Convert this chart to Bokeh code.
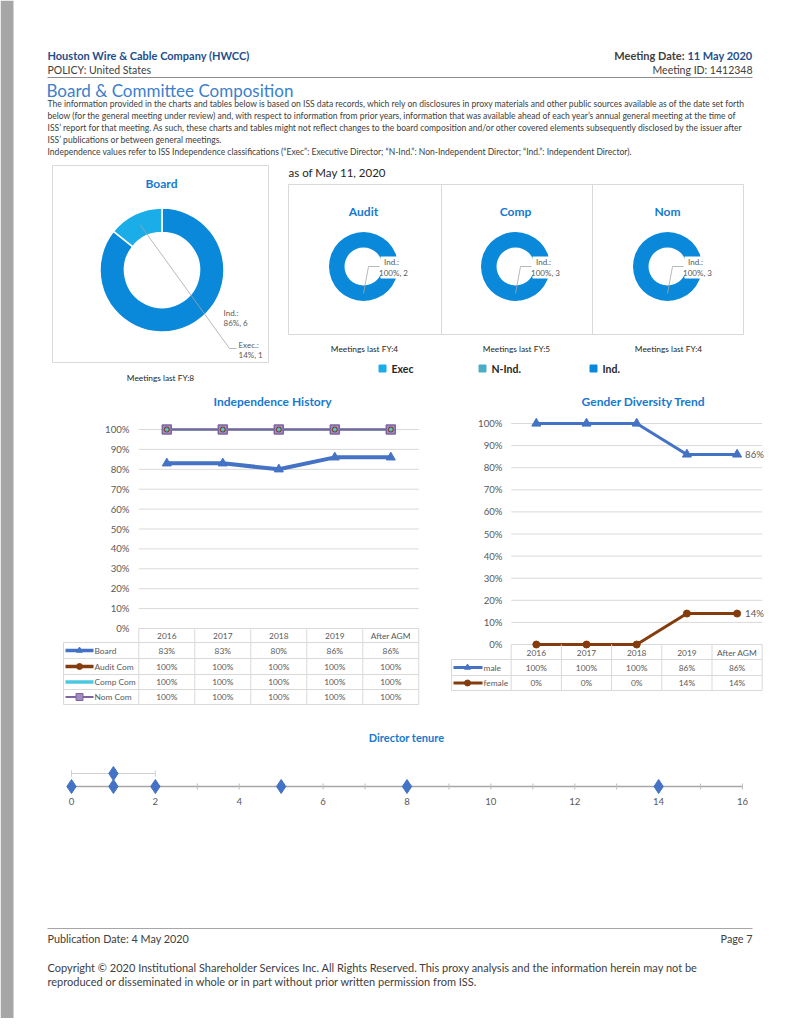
import math
from bokeh.plotting import figure
from bokeh.models import Range1d
from bokeh.core.properties import value
from bokeh.embed import file_html
from bokeh.resources import INLINE

# ---------------- data ----------------
company = "Houston Wire & Cable Company (HWCC)"
policy = "POLICY: United States"
meeting_date = "11 May 2020"
meeting_id = "1412348"
section_title = "Board & Committee Composition"
intro_lines = [
    "The information provided in the charts and tables below is based on ISS data records, which rely on disclosures in proxy materials and other public sources available as of the date set forth",
    "below (for the general meeting under review) and, with respect to information from prior years, information that was available ahead of each year\u2019s annual general meeting at the time of",
    "ISS\u2019 report for that meeting.   As such, these charts and tables might not reflect changes to the board composition and/or other covered elements subsequently disclosed by the issuer after",
    "ISS\u2019 publications or between general meetings.",
    "Independence values refer to ISS Independence classifications (\u201cExec\u201d: Executive Director; \u201cN-Ind.\u201d: Non-Independent Director; \u201cInd.\u201d: Independent Director).",
]
as_of = "as of May 11, 2020"
pub_date = "4 May 2020"
page_no = 7
copyright_lines = [
    "Copyright \u00a9 2020 Institutional Shareholder Services Inc.  All Rights Reserved.  This proxy analysis and the information herein may not be",
    "reproduced or disseminated in whole or in part without prior written permission from ISS.",
]

board_classes = ["Exec", "N-Ind.", "Ind."]
board_counts = [1, 0, 6]
board_meetings = 8
committee_names = ["Audit", "Comp", "Nom"]
committee_ind_counts = [2, 3, 3]
committee_meetings = [4, 5, 4]

years = ["2016", "2017", "2018", "2019", "After AGM"]
indep_series = ["Board", "Audit Com", "Comp Com", "Nom Com"]
indep_board = [83, 83, 80, 86, 86]
indep_audit = [100, 100, 100, 100, 100]
indep_comp = [100, 100, 100, 100, 100]
indep_nom = [100, 100, 100, 100, 100]

gender_series = ["male", "female"]
gender_male = [100, 100, 100, 86, 86]
gender_female = [0, 0, 0, 14, 14]

pct_ticks = [0, 10, 20, 30, 40, 50, 60, 70, 80, 90, 100]

tenure_years = [0, 1, 1, 2, 5, 8, 14]
tenure_ticks = [0, 2, 4, 6, 8, 10, 12, 14, 16]
tenure_minor = list(range(0, 17))
tenure_band = [0, 2]

# ---------------- styles ----------------
FONT = "Lato"
C_DARKBLUE = "#1F4E8C"
C_SECTION = "#3C7FCB"
C_TITLE = "#1679CF"
C_TEXT = "#404040"
C_GRAY = "#595959"
C_GRID = "#D9D9D9"
C_EXEC = "#1AADE8"
C_NIND = "#4BACC6"
C_IND = "#0A88D9"
C_BOARD = "#4472C4"
C_AUDIT = "#843C0C"
C_COMP = "#4BC8E0"
C_NOM = "#8064A2"

W, H = 784, 1018
X0, Y0 = 0, 0

p = figure(width=W, height=H, x_range=Range1d(X0, X0 + W), y_range=Range1d(Y0 + H, Y0),
           output_backend="svg", toolbar_location=None, min_border=0,
           x_axis_location=None, y_axis_location=None)
p.grid.visible = False
p.outline_line_color = None
p.background_fill_color = "white"
p.border_fill_color = "white"


def map_range(v0, s0, v1, s1, lo, hi):
    k = (v1 - v0) / (s1 - s0)
    return Range1d(start=v0 + (lo - s0) * k, end=v0 + (hi - s0) * k)


p.extra_x_ranges = {
    "ix": map_range(-0.5, 138.3, 4.5, 418.3, X0, X0 + W),
    "gx": map_range(-0.5, 510.7, 4.5, 761.7, X0, X0 + W),
    "tx": map_range(0, 71, 16, 742, X0, X0 + W),
}
p.extra_y_ranges = {
    "iy": map_range(0, 628, 100, 429, Y0 + H, Y0),
    "gy": map_range(0, 644, 100, 423, Y0 + H, Y0),
    "ty": map_range(0, 786, 1, 773, Y0 + H, Y0),
}


def T(x, y, s, size=8.0, color=C_TEXT, align="left", style="normal", xr="default", yr="default",
      x_offset=0):
    xs = x if isinstance(x, list) else [x]
    ys = y if isinstance(y, list) else [y] * len(xs)
    ss = s if isinstance(s, list) else [s] * len(xs)
    if len(xs) == 1 and len(ys) > 1:
        xs = xs * len(ys)
    p.text(x=xs, y=ys, text=ss, text_font=value(FONT), text_font_size=f"{size}px",
           text_color=color, text_align=align, text_baseline="middle", text_font_style=style,
           x_range_name=xr, y_range_name=yr, x_offset=x_offset)


# left gray page band
p.quad(left=X0, right=13, top=Y0, bottom=Y0 + H, color="#A6A6A6", line_color=None)

# ---------------- header ----------------
T(47, 55, company, 11, C_DARKBLUE, style="bold")
T(47, 69, policy, 10.5, C_TEXT)
T(752, 55, meeting_date, 11, C_DARKBLUE, align="right", style="bold")
T(684, 55, "Meeting Date:", 11, C_TEXT, align="right", style="bold")
T(752, 69, f"Meeting ID: {meeting_id}", 10.5, C_TEXT, align="right")
p.segment(x0=47, x1=752, y0=77, y1=77, color="#8C8C8C", line_width=1.2)
T(46, 90, section_title, 17, C_SECTION)
T(47, [103.5, 115.5, 127.5, 139.5, 151], intro_lines, 8.55, C_TEXT)

# ---------------- board donut ----------------
p.quad(left=52, right=268, top=165, bottom=362, fill_color=None, line_color=C_GRID)
T(161, 183, "Board", 12, C_TITLE, align="center", style="bold")
bcx, bcy = 161.5, 269.5
total = sum(board_counts)
cols = [C_EXEC, C_NIND, C_IND]
start = math.pi / 2
mids = {}
for i in [2, 1, 0]:
    sweep = 2 * math.pi * board_counts[i] / total
    if sweep > 0:
        p.annular_wedge(x=bcx, y=bcy, inner_radius=37.5, outer_radius=62,
                        inner_radius_units="screen", outer_radius_units="screen",
                        start_angle=start - sweep, end_angle=start, direction="anticlock",
                        fill_color=cols[i], line_color="white", line_width=1.5)
        mids[i] = start - sweep / 2
    start -= sweep
# exec label with leader
a = mids[0]
lx0, ly0 = bcx + 50 * math.cos(a), bcy - 50 * math.sin(a)
p.line(x=[lx0, 229, 236], y=[ly0, 348, 348], color="#A6A6A6", line_width=0.8)
T(223, 312, f"{board_classes[2]}:", 8, C_GRAY)
T(223, 322, f"{round(100 * board_counts[2] / total)}%, {board_counts[2]}", 8, C_GRAY)
T(238, 344, "Exec.:", 8, C_GRAY)
T(238, 354, f"{round(100 * board_counts[0] / total)}%, {board_counts[0]}", 8, C_GRAY)
T(160, 377, f"Meetings last FY:{board_meetings}", 8.3, "#262626", align="center")

# ---------------- committee donuts ----------------
T(288, 172, as_of, 11.5, "#262626")
p.quad(left=288, right=743, top=184, bottom=334, fill_color=None, line_color=C_GRID)
p.segment(x0=[441, 592], x1=[441, 592], y0=184, y1=334, color=C_GRID)
ccx = [363, 515, 667]
ccy = 266
for k, name in enumerate(committee_names):
    cx = ccx[k]
    T(cx, 211, name, 12, C_TITLE, align="center", style="bold")
    p.annular_wedge(x=cx, y=ccy, inner_radius=19, outer_radius=34.5,
                    inner_radius_units="screen", outer_radius_units="screen",
                    start_angle=math.pi / 2 - 2 * math.pi, end_angle=math.pi / 2,
                    direction="anticlock", fill_color=C_IND, line_color=None)
    p.quad(left=cx + 17, right=cx + 45, top=ccy - 10, bottom=ccy + 12, fill_color="white",
           line_color=None)
    p.line(x=[cx, cx + 5, cx + 16], y=[ccy + 27, ccy, ccy], color="#A6A6A6", line_width=0.8)
    T(cx + 28, ccy - 5, "Ind.:", 8, C_GRAY, align="center")
    T(cx + 30, ccy + 6, f"100%, {committee_ind_counts[k]}", 8, C_GRAY, align="center")
    T(cx + 1, 348, f"Meetings last FY:{committee_meetings[k]}", 8.3, "#262626", align="center")

leg_x = [382, 482, 593]
p.rect(x=leg_x, y=368, width=7, height=7, width_units="screen", height_units="screen",
       color=[C_EXEC, C_NIND, C_IND])
T([x + 9 for x in leg_x], 368, ["Exec", "N-Ind.", "Ind."], 10.5, "#262626", style="bold")

# ---------------- independence history ----------------
ixs = list(range(len(years)))
T(272, 401, "Independence History", 12, C_TITLE, align="center", style="bold")
p.segment(x0=-0.5, x1=4.5, y0=pct_ticks, y1=pct_ticks, x_range_name="ix", y_range_name="iy",
          color=C_GRID, line_width=1)
T(129, pct_ticks, [f"{t}%" for t in pct_ticks], 9.6, C_GRAY, align="right", yr="iy")
p.line(ixs, indep_audit, x_range_name="ix", y_range_name="iy", color=C_AUDIT, line_width=2)
p.line(ixs, indep_comp, x_range_name="ix", y_range_name="iy", color=C_COMP, line_width=2)
p.line(ixs, indep_nom, x_range_name="ix", y_range_name="iy", color=C_NOM, line_width=2)
p.line(ixs, indep_board, x_range_name="ix", y_range_name="iy", color=C_BOARD, line_width=4)
p.scatter(ixs, indep_board, x_range_name="ix", y_range_name="iy", marker="triangle", size=9,
          color=C_BOARD)
p.scatter(ixs, indep_nom, x_range_name="ix", y_range_name="iy", marker="square", size=9,
          fill_color="#A08CC0", line_color=C_NOM, line_width=1.5)
p.scatter(ixs, indep_audit, x_range_name="ix", y_range_name="iy", marker="circle", size=5,
          color=C_AUDIT)
p.scatter(ixs, indep_comp, x_range_name="ix", y_range_name="iy", marker="circle", size=3,
          color=C_COMP)

# table
irows = [628, 642, 658, 674, 689, 704]
p.segment(x0=[i - 0.5 for i in range(6)], x1=[i - 0.5 for i in range(6)], y0=628, y1=704,
          x_range_name="ix", color=C_GRID)
p.segment(x0=63, x1=63, y0=642, y1=704, color=C_GRID)
p.segment(x0=63, x1=418.3, y0=irows[1:], y1=irows[1:], color=C_GRID)
T(ixs, 635, years, 8.4, C_GRAY, align="center", xr="ix")
ind_vals = [indep_board, indep_audit, indep_comp, indep_nom]
row_c = [(irows[i + 1] + irows[i + 2]) / 2 for i in range(4)]
for r, vals in enumerate(ind_vals):
    T(ixs, row_c[r], [f"{v}%" for v in vals], 8.4, C_GRAY, align="center", xr="ix")
ser_cols = [C_BOARD, C_AUDIT, C_COMP, C_NOM]
ser_w = [3.5, 3.5, 3.5, 2]
for r, name in enumerate(indep_series):
    p.line(x=[65, 93], y=[row_c[r]] * 2, color=ser_cols[r], line_width=ser_w[r])
    T(94, row_c[r], name, 8.4, C_GRAY)
p.scatter(x=[79], y=[row_c[0]], marker="triangle", size=6, color=C_BOARD)
p.scatter(x=[79], y=[row_c[1]], marker="circle", size=6, color=C_AUDIT)
p.scatter(x=[79], y=[row_c[3]], marker="square", size=7, fill_color="#A08CC0", line_color=C_NOM)

# ---------------- gender diversity ----------------
T(643, 401, "Gender Diversity Trend", 12, C_TITLE, align="center", style="bold")
p.segment(x0=-0.5, x1=4.5, y0=pct_ticks, y1=pct_ticks, x_range_name="gx", y_range_name="gy",
          color=C_GRID, line_width=1)
T(502, pct_ticks, [f"{t}%" for t in pct_ticks], 9.6, C_GRAY, align="right", yr="gy")
p.line(ixs, gender_male, x_range_name="gx", y_range_name="gy", color=C_BOARD, line_width=3)
p.scatter(ixs, gender_male, x_range_name="gx", y_range_name="gy", marker="triangle", size=9,
          color=C_BOARD)
p.line(ixs, gender_female, x_range_name="gx", y_range_name="gy", color=C_AUDIT, line_width=3)
p.scatter(ixs, gender_female, x_range_name="gx", y_range_name="gy", marker="circle", size=7,
          color=C_AUDIT)
T([ixs[-1]] * 2, [gender_male[-1], gender_female[-1]],
  [f"{gender_male[-1]}%", f"{gender_female[-1]}%"], 9.6, C_GRAY, xr="gx", yr="gy", x_offset=8)

grows = [644, 659, 675, 690]
p.segment(x0=[i - 0.5 for i in range(6)], x1=[i - 0.5 for i in range(6)], y0=644, y1=690,
          x_range_name="gx", color=C_GRID)
p.segment(x0=451, x1=451, y0=659, y1=690, color=C_GRID)
p.segment(x0=451, x1=761.7, y0=grows[1:], y1=grows[1:], color=C_GRID)
T(ixs, 652, years, 8.4, C_GRAY, align="center", xr="gx")
g_vals = [gender_male, gender_female]
g_cols = [C_BOARD, C_AUDIT]
grow_c = [667, 682.5]
for r, vals in enumerate(g_vals):
    T(ixs, grow_c[r], [f"{v}%" for v in vals], 8.4, C_GRAY, align="center", xr="gx")
    p.line(x=[453, 482], y=[grow_c[r]] * 2, color=g_cols[r], line_width=3)
    T(483, grow_c[r], gender_series[r], 8.4, C_GRAY)
p.scatter(x=[467], y=[grow_c[0]], marker="triangle", size=6, color=C_BOARD)
p.scatter(x=[467], y=[grow_c[1]], marker="circle", size=6, color=C_AUDIT)

# ---------------- director tenure ----------------
T(406, 737, "Director tenure", 11, C_TITLE, align="center", style="bold")
p.segment(x0=tenure_ticks[0], x1=tenure_ticks[-1], y0=0, y1=0, x_range_name="tx",
          y_range_name="ty", color="#A6A6A6", line_width=1.5)
p.segment(x0=tenure_minor, x1=tenure_minor, y0=783, y1=789, x_range_name="tx", color="#BFBFBF")
T(tenure_ticks, 801, [str(t) for t in tenure_ticks], 9.6, C_GRAY, align="center", xr="tx")
levels = []
seen = {}
for t in tenure_years:
    levels.append(seen.get(t, 0))
    seen[t] = seen.get(t, 0) + 1
p.segment(x0=tenure_band[0], x1=tenure_band[1], y0=1, y1=1, x_range_name="tx",
          y_range_name="ty", color="#D0D0D0", line_width=1)
p.segment(x0=tenure_band, x1=tenure_band, y0=0.75, y1=1.25, x_range_name="tx",
          y_range_name="ty", color="#D0D0D0", line_width=1)
p.scatter(tenure_years, levels, x_range_name="tx", y_range_name="ty", marker="diamond",
          size=14, color=C_BOARD)

# ---------------- footer ----------------
p.segment(x0=47, x1=752, y0=928, y1=928, color="#A6A6A6", line_width=1)
T(47, 938, f"Publication Date: {pub_date}", 10.8, C_TEXT)
T(752, 938, f"Page {page_no}", 10.8, C_TEXT, align="right")
T(47, [967, 981], copyright_lines, 11, C_TEXT)

open("out.html", "w").write(file_html(p, INLINE))
